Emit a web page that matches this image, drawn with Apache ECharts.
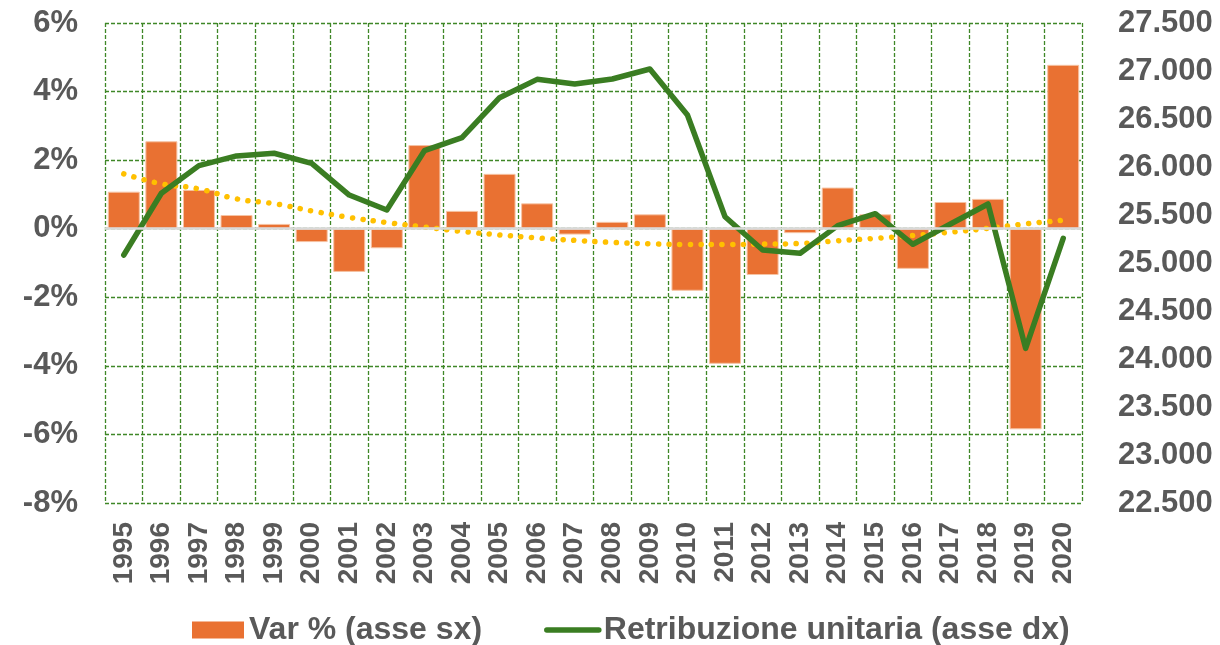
<!DOCTYPE html>
<html>
<head>
<meta charset="utf-8">
<script src="https://cdn.jsdelivr.net/npm/echarts@6/dist/echarts.min.js"></script>
<style>
  html, body { margin: 0; padding: 0; background: #fff; }
  #chart { width: 1220px; height: 645px; }
</style>
</head>
<body>
<div id="chart"></div>
<script>
// anni
const years = ['1995', '1996', '1997', '1998', '1999', '2000', '2001', '2002', '2003', '2004',
  '2005', '2006', '2007', '2008', '2009', '2010', '2011', '2012', '2013', '2014',
  '2015', '2016', '2017', '2018', '2019', '2020']

// Var % (asse sx)
const varPct = [1.08, 2.55, 1.13, 0.40, 0.14, -0.39, -1.26, -0.57, 2.44, 0.52,
  1.60, 0.74, -0.17, 0.20, 0.42, -1.81, -3.94, -1.35, -0.13, 1.20,
  0.42, -1.17, 0.78, 0.87, -5.85, 4.78]

// Retribuzione unitaria (asse dx)
const retribuzione = [25083, 25726, 26014, 26115, 26143, 26038, 25708, 25552, 26170, 26305,
  26722, 26913, 26865, 26917, 27021, 26542, 25482, 25135, 25101, 25389,
  25514, 25195, 25406, 25615, 24111, 25257]

// linea di tendenza (puntinata gialla)
const tendenza = [1.60, 1.31, 1.16, 0.87, 0.73, 0.52, 0.33, 0.18, 0.05, -0.08,
  -0.18, -0.27, -0.34, -0.40, -0.44, -0.46, -0.46, -0.45, -0.43, -0.35,
  -0.28, -0.20, -0.10, 0.01, 0.14, 0.25]

const leftTicks = {min: -8, max: 6, interval: 2}
const rightTicks = {min: 22500, max: 27500, interval: 500}

const font = 'Liberation Sans, Arial, sans-serif'
const labelColor = '#595959'
const gridLine = {color: '#3F8727', width: 1.3, type: [4, 2]}

function thousands(v) {
  return String(v).replace(/\B(?=(\d{3})+(?!\d))/g, '.')
}

const chart = echarts.init(document.getElementById('chart'))
chart.setOption({
  animation: false,
  textStyle: {fontFamily: font},
  grid: {left: 105, right: 138, top: 23, bottom: 142},
  legend: {
    data: [
      {name: 'Var % (asse sx)', icon: 'rect', itemStyle: {borderWidth: 0}},
      {name: 'Retribuzione unitaria (asse dx)', itemStyle: {opacity: 0}, lineStyle: {width: 5.5}}
    ],
    left: 187,
    top: 609,
    itemWidth: 52,
    itemHeight: 17,
    itemGap: 62,
    textStyle: {fontSize: 32, fontWeight: 'bold', color: labelColor, fontFamily: font}
  },
  xAxis: {
    type: 'category',
    data: years,
    axisLine: {show: false},
    axisTick: {show: false},
    splitLine: {show: true, lineStyle: gridLine},
    axisLabel: {
      rotate: 90,
      margin: 19,
      fontSize: 28,
      fontWeight: 'bold',
      color: labelColor,
      interval: 0
    }
  },
  yAxis: [
    {
      type: 'value',
      min: leftTicks.min,
      max: leftTicks.max,
      interval: leftTicks.interval,
      axisLine: {show: false},
      axisTick: {show: false},
      splitLine: {show: true, lineStyle: gridLine},
      axisLabel: {
        formatter: '{value}%',
        margin: 27,
        fontSize: 31,
        fontWeight: 'bold',
        color: labelColor
      }
    },
    {
      type: 'value',
      min: rightTicks.min,
      max: rightTicks.max,
      interval: rightTicks.interval,
      axisLine: {show: false},
      axisTick: {show: false},
      splitLine: {show: false},
      axisLabel: {
        formatter: thousands,
        margin: 36,
        fontSize: 31,
        fontWeight: 'bold',
        color: labelColor
      }
    }
  ],
  series: [
    {
      name: 'Var % (asse sx)',
      type: 'bar',
      yAxisIndex: 0,
      barWidth: 32,
      itemStyle: {color: '#E97132', borderColor: '#F6C3A3', borderWidth: 1},
      data: varPct,
      z: 2,
      markLine: {
        silent: true,
        symbol: 'none',
        label: {show: false},
        lineStyle: {color: '#D9D9D9', width: 2.5, type: 'solid'},
        data: [{yAxis: 0}]
      }
    },
    {
      name: 'tendenza',
      type: 'line',
      yAxisIndex: 0,
      symbol: 'none',
      smooth: true,
      lineStyle: {color: '#FFC000', width: 5.5, type: [0.1, 10.5], cap: 'round'},
      data: tendenza,
      z: 3
    },
    {
      name: 'Retribuzione unitaria (asse dx)',
      type: 'line',
      yAxisIndex: 1,
      symbol: 'none',
      lineStyle: {color: '#3A7D22', width: 5.5, cap: 'round', join: 'round'},
      itemStyle: {color: '#3A7D22'},
      data: retribuzione,
      z: 4
    }
  ]
})
</script>
</body>
</html>
